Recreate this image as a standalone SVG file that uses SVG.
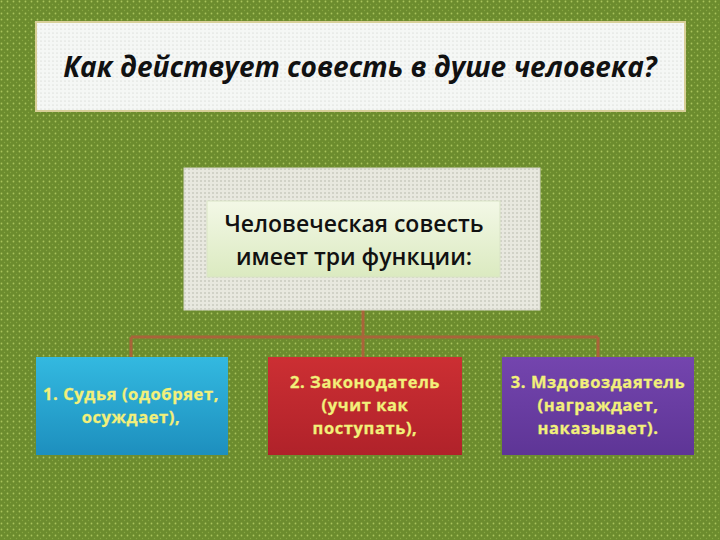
<svg xmlns="http://www.w3.org/2000/svg" width="720" height="540" viewBox="0 0 720 540">
  <defs>
    <pattern id="bgdots" width="6" height="6" patternUnits="userSpaceOnUse">
      <rect width="6" height="6" fill="#6c8c2e"/>
      <circle cx="1.5" cy="1.5" r="0.9" fill="#a9c35c"/>
      <circle cx="4.5" cy="4.5" r="0.7" fill="#86a641"/>
    </pattern>
    <pattern id="lightdots" width="4" height="4" patternUnits="userSpaceOnUse">
      <rect width="4" height="4" fill="#f5f7f5"/>
      <circle cx="1" cy="1" r="0.6" fill="#c8ccc4"/>
    </pattern>
    <pattern id="graydots" width="4" height="4" patternUnits="userSpaceOnUse">
      <rect width="4" height="4" fill="#e8e8df"/>
      <circle cx="1" cy="1" r="0.7" fill="#a9ab9c"/>
    </pattern>
    <linearGradient id="gGreen" x1="0" y1="0" x2="0" y2="1">
      <stop offset="0" stop-color="#f3f8e6"/>
      <stop offset="1" stop-color="#dbeac0"/>
    </linearGradient>
    <linearGradient id="gBlue" x1="0" y1="0" x2="0" y2="1">
      <stop offset="0" stop-color="#33b9e0"/>
      <stop offset="1" stop-color="#1d8fbe"/>
    </linearGradient>
    <linearGradient id="gRed" x1="0" y1="0" x2="0" y2="1">
      <stop offset="0" stop-color="#cc2f33"/>
      <stop offset="1" stop-color="#b0222a"/>
    </linearGradient>
    <linearGradient id="gPurple" x1="0" y1="0" x2="0" y2="1">
      <stop offset="0" stop-color="#7445ae"/>
      <stop offset="1" stop-color="#5e3596"/>
    </linearGradient>
  </defs>
  <style>
    .title { font-family: "Open Sans", "Noto Sans", "DejaVu Sans", sans-serif; font-weight: bold; font-style: italic; font-size: 28px; fill: #111; }
    .center { font-family: "Open Sans", "Noto Sans", sans-serif; font-weight: 600; font-size: 23px; fill: #111; }
    .fn { font-family: "Open Sans", "Noto Sans", sans-serif; font-weight: bold; font-size: 16.5px; letter-spacing: 0.6px; fill: #f2f07a; stroke: #f2f07a; stroke-width: 0.3; }
    .conn { stroke: #a9643a; stroke-width: 3; fill: none; }
  </style>

  <rect width="720" height="540" fill="url(#bgdots)"/>

  <g id="title">
    <rect x="36" y="22" width="649" height="89" fill="url(#lightdots)" stroke="#d8cf98" stroke-width="2"/>
    <text class="title" x="360" y="77" text-anchor="middle">Как действует совесть в душе человека?</text>
  </g>

  <g id="connectors">
    <path class="conn" d="M363 310 V357 M131 337 H598 M131 337 V357 M598 337 V357"/>
  </g>

  <g id="center">
    <rect x="184" y="168" width="356" height="142" fill="url(#graydots)" stroke="#d6d6c8" stroke-width="1"/>
    <rect x="207" y="201" width="293" height="76" fill="url(#gGreen)" stroke="#d9e3c6" stroke-width="1"/>
    <text class="center" x="354" y="232" text-anchor="middle">Человеческая совесть</text>
    <text class="center" x="354" y="265" text-anchor="middle">имеет три функции:</text>
  </g>

  <g id="judge">
    <rect x="36" y="357" width="192" height="98" fill="url(#gBlue)"/>
    <text class="fn" x="131" y="400" text-anchor="middle">1. Судья (одобряет,</text>
    <text class="fn" x="131" y="423" text-anchor="middle">осуждает),</text>
  </g>

  <g id="lawgiver">
    <rect x="268" y="357" width="194" height="98" fill="url(#gRed)"/>
    <text class="fn" x="365" y="388" text-anchor="middle">2. Законодатель</text>
    <text class="fn" x="365" y="411" text-anchor="middle">(учит как</text>
    <text class="fn" x="365" y="434" text-anchor="middle">поступать),</text>
  </g>

  <g id="rewarder">
    <rect x="502" y="357" width="192" height="98" fill="url(#gPurple)"/>
    <text class="fn" x="598" y="388" text-anchor="middle">3. Мздовоздаятель</text>
    <text class="fn" x="598" y="411" text-anchor="middle">(награждает,</text>
    <text class="fn" x="598" y="434" text-anchor="middle">наказывает).</text>
  </g>
</svg>
